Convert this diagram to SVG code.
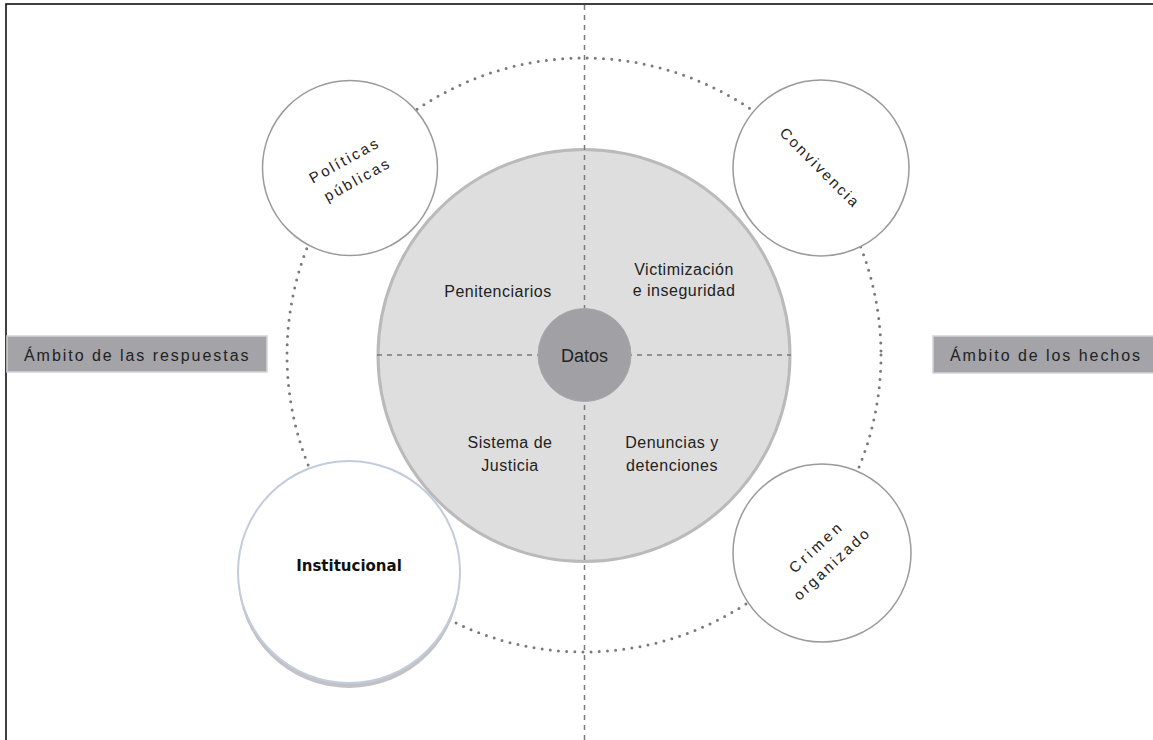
<svg xmlns="http://www.w3.org/2000/svg" width="1153" height="740" viewBox="0 0 1153 740">
<style>
.t{font-family:"Liberation Sans",Arial,sans-serif;fill:#222;}
.in{font-size:16px;letter-spacing:0.5px;text-anchor:middle;}
.rot{font-size:15px;letter-spacing:2.4px;text-anchor:middle;}
.amb{font-size:16px;letter-spacing:1.95px;}
.sm{fill:#fff;stroke:#9a9a9a;stroke-width:1.5;}
.dash{stroke:#7a7a7a;stroke-width:1.5;stroke-dasharray:5 5;fill:none;}
.lbl{fill:#a3a3a8;stroke:#d4d4d4;stroke-width:1.5;}
</style>
<rect width="1153" height="740" fill="#fff"/>
<path d="M6 740 V4 H1153" fill="none" stroke="#000" stroke-width="1.5"/>
<g id="connectors">
<circle cx="584" cy="355" r="297" fill="none" stroke="#7a7a7a" stroke-width="3" stroke-linecap="round" stroke-dasharray="0 8.2"/>
</g>
<g id="datos-ring">
<circle cx="584" cy="355.5" r="206" fill="#dedede" stroke="#bababa" stroke-width="3"/>
</g>
<g id="axes">
<line class="dash" x1="584.5" y1="5" x2="584.5" y2="740"/>
<line class="dash" x1="377" y1="355" x2="791" y2="355"/>
</g>
<g id="datos">
<circle cx="584.5" cy="355" r="46.5" fill="#a1a1a5" stroke="#a8a8ac" stroke-width="1"/>
<text class="t" x="584.5" y="362" font-size="18" text-anchor="middle">Datos</text>
</g>
<g id="penitenciarios"><text class="t in" x="498" y="297">Penitenciarios</text></g>
<g id="victimizacion"><text class="t in" x="684" y="275">Victimización</text><text class="t in" x="684" y="296">e inseguridad</text></g>
<g id="sistema"><text class="t in" x="510" y="448">Sistema de</text><text class="t in" x="510" y="471">Justicia</text></g>
<g id="denuncias"><text class="t in" x="672" y="448">Denuncias y</text><text class="t in" x="672" y="471">detenciones</text></g>
<g id="politicas">
<circle class="sm" cx="350" cy="168" r="87.5"/>
<g transform="translate(350 170) rotate(-29)">
<text class="t rot" x="0" y="-6">Políticas</text>
<text class="t rot" x="2" y="17">públicas</text>
</g>
</g>
<g id="convivencia">
<circle class="sm" cx="821" cy="168" r="88"/>
<text class="t rot" transform="translate(820 168) rotate(45)" x="0" y="5" style="letter-spacing:2.3px">Convivencia</text>
</g>
<g id="crimen">
<circle class="sm" cx="822" cy="553" r="89"/>
<g transform="translate(824 555) rotate(-43)">
<text class="t rot" x="0" y="-6" style="letter-spacing:3.4px">Crimen</text>
<text class="t rot" x="0" y="17" style="letter-spacing:2.5px">organizado</text>
</g>
</g>
<g id="institucional">
<circle cx="349" cy="577" r="111" fill="#c2c2c6"/>
<circle cx="349" cy="572" r="111" fill="#fff" stroke="#c2ccdc" stroke-width="2"/>
<text x="349" y="571" font-family="'DejaVu Sans',Verdana,sans-serif" font-weight="bold" font-size="15" fill="#111" text-anchor="middle">Institucional</text>
</g>
<g id="ambito-respuestas">
<rect class="lbl" x="7" y="336" width="260" height="36"/>
<text class="t amb" x="24" y="361">Ámbito de las respuestas</text>
</g>
<g id="ambito-hechos">
<rect class="lbl" x="933" y="336" width="225" height="37"/>
<text class="t amb" x="950" y="361">Ámbito de los hechos</text>
</g>
</svg>
